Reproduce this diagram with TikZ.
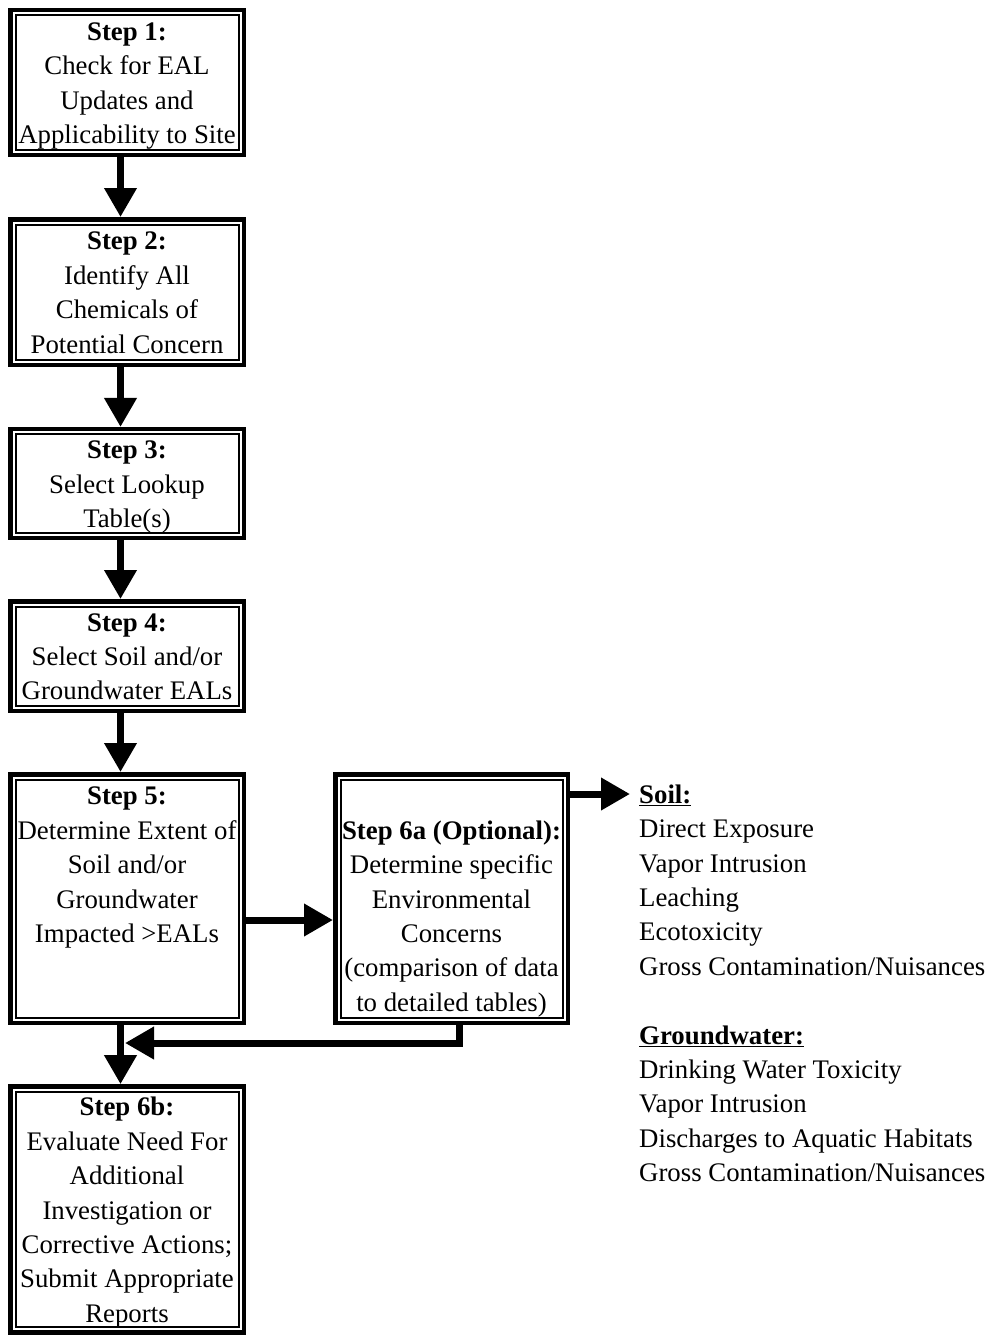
\documentclass[tikz,border=0pt]{standalone}
\usepackage{fontspec}
\setmainfont{Liberation Serif}
\usetikzlibrary{arrows.meta}
\newcommand{\tstrut}{\rule{0pt}{29.5pt}}
\begin{document}
\begin{tikzpicture}[x=1pt,y=-1pt,
  txt/.style={font=\fontsize{26.8pt}{34.4pt}\selectfont},
  box/.style={txt, draw, line width=4.5pt, minimum width=233.5pt, align=center, inner sep=0pt},
  innerline/.style={line width=2pt},
  arr/.style={line width=7pt, line join=miter, -{Triangle[width=31pt,length=29pt]}},
  lst/.style={txt, anchor=north west, inner sep=0pt, align=left}
]
\useasboundingbox[fill=white] (0,0) rectangle (988,1335);

\node[box, minimum height=144.5pt] (b1) at (127,82.5)
  {\tstrut\textbf{Step 1:}\\Check for EAL\\Updates and\\Applicability to Site\strut};
\node[box, minimum height=145.5pt] (b2) at (127,292)
  {\tstrut\textbf{Step 2:}\\Identify All\\Chemicals of\\Potential Concern\strut};
\node[box, minimum height=108.5pt] (b3) at (127,483.5)
  {\tstrut\textbf{Step 3:}\\Select Lookup\\Table(s)\strut};
\node[box, minimum height=109.5pt] (b4) at (127,656)
  {\tstrut\textbf{Step 4:}\\Select Soil and/or\\Groundwater EALs\strut};
\node[box, minimum height=248.5pt] (b5) at (127,898.5)
  {\tstrut\textbf{Step 5:}\\Determine Extent of\\Soil and/or\\Groundwater\\Impacted >EALs\\\strut\\\strut};
\node[box, minimum width=232.5pt, minimum height=248.5pt] (b6a) at (451.5,898.5)
  {\tstrut\\\textbf{Step 6a (Optional):}\\Determine specific\\Environmental\\Concerns\\(comparison of data\\to detailed tables)\strut};
\node[box, minimum height=242.5pt] (b6b) at (127,1209.5)
  {\tstrut\textbf{Step 6b:}\\Evaluate Need For\\Additional\\Investigation or\\Corrective Actions;\\Submit Appropriate\\Reports\strut};

\foreach \n in {b1,b2,b3,b4,b5,b6a,b6b}
  \draw[innerline] ([xshift=7.5pt,yshift=-7.5pt]\n.north west) rectangle ([xshift=-7.5pt,yshift=7.5pt]\n.south east);

\node[lst] (conc) at (639,779)
  {\strut\underline{\textbf{Soil:}}\\Direct Exposure\\Vapor Intrusion\\Leaching\\Ecotoxicity\\Gross Contamination/Nuisances\\\strut\\\underline{\textbf{Groundwater:}}\\Drinking Water Toxicity\\Vapor Intrusion\\Discharges to Aquatic Habitats\\Gross Contamination/Nuisances\strut};

\coordinate (soilpt) at (630,794);
\coordinate (fbend) at (125,1043);

\draw[arr] ([xshift=-6.5pt]b1.south) -- ([xshift=-6.5pt]b2.north);
\draw[arr] ([xshift=-6.5pt]b2.south) -- ([xshift=-6.5pt]b3.north);
\draw[arr] ([xshift=-6.5pt]b3.south) -- ([xshift=-6.5pt]b4.north);
\draw[arr] ([xshift=-6.5pt]b4.south) -- ([xshift=-6.5pt]b5.north);
\draw[arr] ([xshift=-6.5pt]b5.south) -- ([xshift=-6.5pt]b6b.north);
\draw[arr] ([yshift=-21.5pt]b5.east) -- ([yshift=-21.5pt]b6a.west);
\draw[arr] ([yshift=-22pt]b6a.north east) -- (soilpt);
\draw[arr] ([xshift=7.5pt]b6a.south) |- (fbend);
\end{tikzpicture}
\end{document}
